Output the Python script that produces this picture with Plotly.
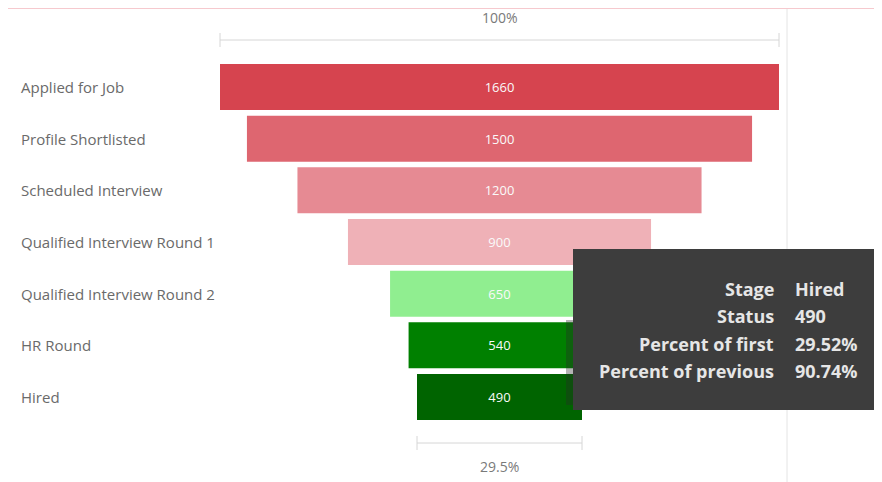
import plotly.graph_objects as go

stages = [
    "Applied for Job",
    "Profile Shortlisted",
    "Scheduled Interview",
    "Qualified Interview Round 1",
    "Qualified Interview Round 2",
    "HR Round",
    "Hired",
]
counts = [1660, 1500, 1200, 900, 650, 540, 490]
bar_colors = ["#d6444f", "#de6670", "#e68a93", "#efb1b7", "#90ee90", "#008000", "#006400"]

OFF = 8  # page body margin
W, H = 882 - OFF, 482 - OFF
FONT = "Open Sans"


def px_y(p):
    # screen pixel row -> paper coordinate
    return 1 - (p - OFF) / H


def px_x(p):
    return (p - OFF) / W


# axis scale: first bar spans screen pixels 220..779
first, last = counts[0], counts[-1]
per_px = first / (779 - 220)
center_px = (220 + 779) / 2 - OFF
x_range = [-center_px * per_px, (W - center_px) * per_px]
row_top, row_bot = 87 - OFF, 397 - OFF
row_step = (row_bot - row_top) / (len(stages) - 1)
y_range = [len(stages) - 1 + (H - row_bot) / row_step, -row_top / row_step]

fig = go.Figure(go.Funnel(
    y=stages,
    x=counts,
    marker=dict(color=bar_colors, line=dict(width=0)),
    connector=dict(visible=False),
    textinfo="value",
    textposition="inside",
    insidetextanchor="middle",
    textfont=dict(color="#fafafa", size=13, family=FONT),
    hovertemplate="Stage %{y}<br>Status %{x}<extra></extra>",
))

shapes = []
annotations = []

# stage labels on the left
for s in stages:
    annotations.append(dict(
        x=px_x(19), xref="paper", y=s, yref="y", text=s, showarrow=False,
        xanchor="left", yanchor="middle", font=dict(size=15, color="#6a6a6a", family=FONT),
    ))

# frame lines
shapes.append(dict(type="line", xref="paper", yref="paper", x0=-0.02, x1=1.02,
                   y0=px_y(8), y1=px_y(8), line=dict(color="#f6c9ce", width=2)))
shapes.append(dict(type="line", xref="paper", yref="paper", x0=px_x(787), x1=px_x(787),
                   y0=px_y(9), y1=-0.05, line=dict(color="#e4e4e4", width=1)))


def bracket(val, y_px, label, label_y_px):
    lx, rx = -val / 2, val / 2
    shapes.append(dict(type="line", xref="x", yref="paper", x0=lx, x1=rx,
                       y0=px_y(y_px), y1=px_y(y_px), line=dict(color="#d6d6d6", width=1)))
    for xv in (lx, rx):
        shapes.append(dict(type="line", xref="x", yref="paper", x0=xv, x1=xv,
                           y0=px_y(y_px - 7), y1=px_y(y_px + 7),
                           line=dict(color="#d6d6d6", width=1)))
    annotations.append(dict(x=0, xref="x", y=px_y(label_y_px), yref="paper", text=label,
                            showarrow=False, yanchor="middle",
                            font=dict(size=14, color="#7a7a7a", family=FONT)))


bracket(first, 40, "100%", 18)
bracket(last, 443, f"{last / first * 100:.1f}%", 466)

# tooltip box for the last stage, with a faint shadow on its lower left
shapes.append(dict(type="rect", xref="paper", yref="paper", x0=px_x(566), x1=px_x(580),
                   y0=px_y(405), y1=px_y(320), fillcolor="rgba(40,40,40,0.35)",
                   line=dict(width=0), layer="above"))
shapes.append(dict(type="rect", xref="paper", yref="paper", x0=px_x(573), x1=1.02,
                   y0=px_y(410), y1=px_y(249), fillcolor="#3d3d3d",
                   line=dict(width=0), layer="above"))
tip_rows = [
    ("Stage", stages[-1]),
    ("Status", str(last)),
    ("Percent of first", f"{last / first * 100:.2f}%"),
    ("Percent of previous", f"{last / counts[-2] * 100:.2f}%"),
]
for i, (k, v) in enumerate(tip_rows):
    yy = px_y(289 + i * 27.3)
    annotations.append(dict(x=px_x(776), xref="paper", y=yy, yref="paper", text=f"<b>{k}</b>",
                            xanchor="right", yanchor="middle", showarrow=False,
                            font=dict(size=18, color="#e6e6e6", family=FONT)))
    annotations.append(dict(x=px_x(793), xref="paper", y=yy, yref="paper", text=f"<b>{v}</b>",
                            xanchor="left", yanchor="middle", showarrow=False,
                            font=dict(size=18, color="#e6e6e6", family=FONT)))

fig.update_layout(
    width=W, height=H,
    margin=dict(l=0, r=0, t=0, b=0),
    paper_bgcolor="white", plot_bgcolor="white",
    showlegend=False,
    funnelgap=0.11,
    xaxis=dict(range=x_range, visible=False, fixedrange=True),
    yaxis=dict(range=y_range, visible=False, fixedrange=True,
               categoryorder="array", categoryarray=stages),
    shapes=shapes,
    annotations=annotations,
)

fig.write_html("out.html")
